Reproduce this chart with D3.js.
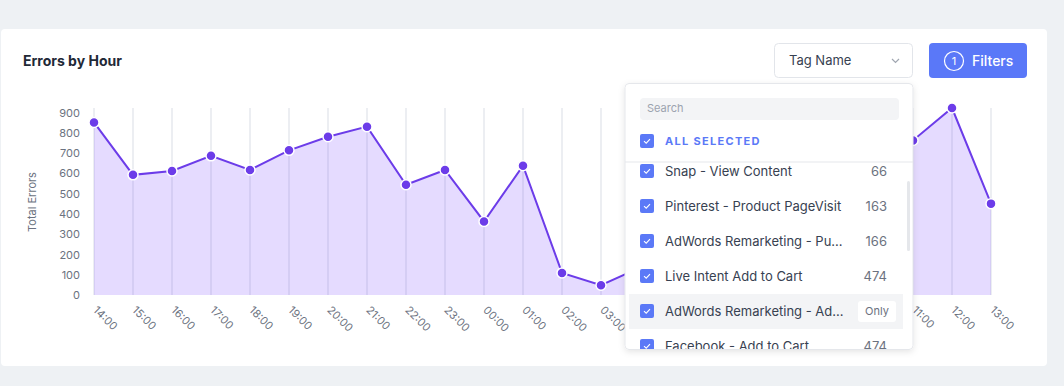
<!DOCTYPE html>
<html><head><meta charset="utf-8">
<script src="https://cdn.jsdelivr.net/npm/d3@7/dist/d3.min.js"></script>
<style>
html,body{margin:0;padding:0;background:#eef1f4;}
svg{display:block;font-family:Inter,"Noto Sans",sans-serif;}
</style></head>
<body>
<svg id="c" width="1064" height="386"></svg>
<script>
const hours = ["14:00","15:00","16:00","17:00","18:00","19:00","20:00","21:00","22:00","23:00","00:00","01:00","02:00","03:00","04:00","05:00","06:00","07:00","08:00","09:00","10:00","11:00","12:00","13:00"];
const errors = [852,593,612,687,617,714,781,831,544,617,363,638,109,48,135,230,380,520,610,680,720,763,923,451];
const yTicks = [0,100,200,300,400,500,600,700,800,900];
const tagNames = ["Snap - View Content","Pinterest - Product PageVisit","AdWords Remarketing - Pu...","Live Intent Add to Cart","AdWords Remarketing - Ad...","Facebook - Add to Cart"];
const tagCounts = ["66","163","166","474","","474"];

const svg = d3.select("#c");
svg.append("rect").attr("width",1064).attr("height",386).attr("fill","#eef1f4");
svg.append("rect").attr("x",1).attr("y",29).attr("width",1046).attr("height",337).attr("rx",4).attr("fill","#fff");

svg.append("text").attr("x",23).attr("y",66).text("Errors by Hour")
  .attr("font-size",14).attr("font-weight",700).attr("fill","#1f2937");

const x = d3.scalePoint().domain(hours).range([94,991]);
const y = d3.scaleLinear().domain([0,d3.max(errors)]).range([295,108]);

// grid
svg.append("g").selectAll("line").data(hours).join("line")
  .attr("x1",d=>x(d)).attr("x2",d=>x(d)).attr("y1",108).attr("y2",295)
  .attr("stroke","#eceef2").attr("stroke-width",2);

const area = d3.area().x((d,i)=>x(hours[i])).y0(y(0)).y1(d=>y(d));
svg.append("path").datum(errors).attr("d",area).attr("fill","#7c4dff").attr("fill-opacity",0.2);
const line = d3.line().x((d,i)=>x(hours[i])).y(d=>y(d));
svg.append("path").datum(errors).attr("d",line).attr("fill","none").attr("stroke","#6c3ce9").attr("stroke-width",2);
svg.append("g").selectAll("circle").data(errors).join("circle")
  .attr("cx",(d,i)=>x(hours[i])).attr("cy",d=>y(d)).attr("r",5)
  .attr("fill","#6c3ce9").attr("stroke","#fff").attr("stroke-width",1.5);

// y axis
const ya = svg.append("g").attr("transform","translate(86,0)")
  .call(d3.axisLeft(y).tickValues(yTicks).tickSize(0).tickPadding(6));
ya.select(".domain").remove();
ya.selectAll("text").attr("font-size",11).attr("fill","#6b7280").attr("font-family","Inter,sans-serif");

// x axis
const xa = svg.append("g").attr("transform","translate(0,306)")
  .call(d3.axisBottom(x).tickSize(0).tickPadding(0));
xa.select(".domain").remove();
xa.selectAll("text").attr("font-size",11).attr("fill","#6b7280").attr("font-family","Inter,sans-serif")
  .attr("text-anchor","start").attr("dy","0.7em").attr("transform","rotate(45) translate(2,-3)");

svg.append("text").attr("transform","translate(36,202) rotate(-90)").attr("text-anchor","middle")
  .text("Total Errors").attr("font-size",11).attr("fill","#6b7280");

// Tag Name select
svg.append("rect").attr("x",774.5).attr("y",43.5).attr("width",138).attr("height",34).attr("rx",4)
  .attr("fill","#fff").attr("stroke","#e2e5ea");
svg.append("text").attr("x",789).attr("y",65).text("Tag Name").attr("font-size",13).attr("fill","#374151");
svg.append("path").attr("d","M892,59 L895.5,62.5 L899,59").attr("fill","none").attr("stroke","#a0a6b1").attr("stroke-width",1.2);

// Filters button
svg.append("rect").attr("x",929).attr("y",43).attr("width",98).attr("height",35).attr("rx",4).attr("fill","#5a78f8");
svg.append("circle").attr("cx",954).attr("cy",61).attr("r",9.5).attr("fill","none").attr("stroke","#fff").attr("stroke-width",1.2);
svg.append("text").attr("x",954).attr("y",65).attr("text-anchor","middle").text("1").attr("font-size",11).attr("fill","#fff");
svg.append("text").attr("x",972).attr("y",66).text("Filters").attr("font-size",14).attr("font-weight",500).attr("fill","#fff");

// dropdown panel
const defs = svg.append("defs");
const f = defs.append("filter").attr("id","sh").attr("x","-10%").attr("y","-10%").attr("width","120%").attr("height","120%");
f.append("feDropShadow").attr("dx",0).attr("dy",2).attr("stdDeviation",3).attr("flood-color","#000").attr("flood-opacity",0.1);
defs.append("clipPath").attr("id","lc").append("rect").attr("x",625).attr("y",162).attr("width",288).attr("height",187);

svg.append("rect").attr("x",625).attr("y",83.5).attr("width",288).attr("height",266).attr("rx",4)
  .attr("fill","#fff").attr("stroke","#e5e7eb").attr("filter","url(#sh)");
svg.append("rect").attr("x",640).attr("y",98).attr("width",259).attr("height",22).attr("rx",4).attr("fill","#f3f4f6");
svg.append("text").attr("x",647).attr("y",112).text("Search").attr("font-size",11).attr("fill","#9ca3af");

function checkbox(g, cx, cy){
  g.append("rect").attr("x",cx).attr("y",cy).attr("width",14).attr("height",14).attr("rx",2).attr("fill","#5b79f7");
  g.append("path").attr("d",`M${cx+4},${cy+7.2} L${cx+6.2},${cy+9.2} L${cx+10},${cy+5.2}`).attr("fill","none").attr("stroke","#fff").attr("stroke-width",1.1);
}
checkbox(svg,640,134);
svg.append("text").attr("x",665).attr("y",145).text("ALL SELECTED").attr("font-size",11).attr("font-weight",700)
  .attr("letter-spacing",1.3).attr("fill","#5b79f7");
svg.append("line").attr("x1",625).attr("x2",913).attr("y1",162).attr("y2",162).attr("stroke","#e5e7eb");

const list = svg.append("g").attr("clip-path","url(#lc)");
const rowY = d3.scaleLinear().domain([0,1]).range([171,206]);
list.append("rect").attr("x",629).attr("y",rowY(4)-17).attr("width",274).attr("height",35).attr("fill","#f3f4f6");
tagNames.forEach((n,i)=>{
  const cy = rowY(i);
  checkbox(list,640,cy-7);
  list.append("text").attr("x",665).attr("y",cy+4.5).text(n).attr("font-size",13).attr("fill","#374151");
  if(tagCounts[i]) list.append("text").attr("x",887).attr("y",cy+4.5).attr("text-anchor","end").text(tagCounts[i]).attr("font-size",13).attr("fill","#6b7280");
});
list.append("rect").attr("x",858).attr("y",rowY(4)-10).attr("width",38).attr("height",21).attr("rx",3).attr("fill","#fff");
list.append("text").attr("x",877).attr("y",rowY(4)+4).attr("text-anchor","middle").text("Only").attr("font-size",11).attr("fill","#6b7280");
svg.append("rect").attr("x",907).attr("y",181).attr("width",3).attr("height",70).attr("rx",1.5).attr("fill","#e5e7eb");
</script>
</body></html>
